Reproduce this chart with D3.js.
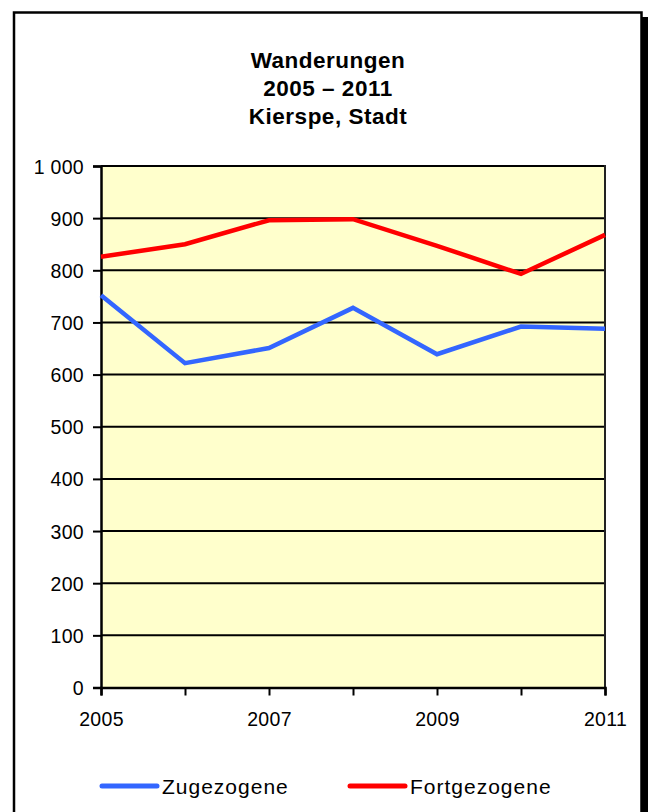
<!DOCTYPE html>
<html>
<head>
<meta charset="utf-8">
<script src="https://cdn.jsdelivr.net/npm/d3@7"></script>
<style>
  body { margin: 0; background: #fff; }
  text { font-family: "Liberation Sans", Arial, sans-serif; }
</style>
</head>
<body>
<div id="chart"></div>
<script>
(() => {
  // Jahre und Werte
  var years = [2005, 2006, 2007, 2008, 2009, 2010, 2011];
  var zugezogene = [752, 622, 651, 728, 639, 692, 688];
  var fortgezogene = [826, 850, 896, 898, 847, 793, 868];
  var yTicks = [0, 100, 200, 300, 400, 500, 600, 700, 800, 900, 1000];
  var xLabels = [2005, 2007, 2009, 2011];
  var titleLines = ["Wanderungen", "2005 \u2013 2011", "Kierspe, Stadt"];
  var seriesNames = ["Zugezogene", "Fortgezogene"];
  var seriesColors = ["#3366ff", "#ff0000"];

  var W = 648, H = 812;
  var plot = { left: 101, right: 605, top: 166, bottom: 687.5 };

  var svg = d3.select('#chart')
    .append('svg')
    .attr('width', W)
    .attr('height', H);

  // frame with shadow
  svg.append('rect')
    .attr('x', 642).attr('y', 17)
    .attr('width', 6).attr('height', H)
    .attr('fill', '#000');
  svg.append('rect')
    .attr('x', 14).attr('y', 12.5)
    .attr('width', 627.5).attr('height', H + 20)
    .attr('fill', '#fff')
    .attr('stroke', '#000')
    .attr('stroke-width', 2.5);

  // title
  svg.append('text')
    .attr('x', 328)
    .attr('text-anchor', 'middle')
    .style('font-weight', 'bold')
    .style('font-size', '22.5px')
    .style('letter-spacing', '0.5px')
    .selectAll('tspan')
    .data(titleLines)
    .enter().append('tspan')
    .attr('x', 328)
    .attr('y', (d, i) => 68 + i * 28)
    .text(d => d);

  var xScale = d3.scaleLinear().domain([2005, 2011]).range([plot.left, plot.right]);
  var yScale = d3.scaleLinear().domain([0, 1000]).range([plot.bottom, plot.top]);

  // plot background
  svg.append('rect')
    .attr('x', plot.left).attr('y', plot.top)
    .attr('width', plot.right - plot.left)
    .attr('height', plot.bottom - plot.top)
    .attr('fill', '#ffffcc');

  // gridlines
  svg.append('g')
    .selectAll('line')
    .data(yTicks.filter(d => d > 0))
    .enter().append('line')
    .attr('x1', plot.left).attr('x2', plot.right)
    .attr('y1', d => yScale(d)).attr('y2', d => yScale(d))
    .attr('stroke', '#000')
    .attr('stroke-width', 2);

  // right border of plot
  svg.append('line')
    .attr('x1', plot.right).attr('x2', plot.right)
    .attr('y1', plot.top - 1).attr('y2', plot.bottom)
    .attr('stroke', '#222')
    .attr('stroke-width', 2);

  var fmt = d3.formatLocale({ decimal: ",", thousands: " ", grouping: [3], currency: ["", "€"] }).format(",d");

  var yAxis = svg.append('g')
    .attr('transform', 'translate(' + plot.left + ',0)')
    .call(d3.axisLeft(yScale).tickValues(yTicks).tickSize(8).tickPadding(9).tickFormat(fmt));
  yAxis.select('.domain').attr('stroke-width', 2.5);
  yAxis.selectAll('.tick line').attr('stroke-width', 2);
  yAxis.selectAll('text')
    .attr('dy', '0.36em')
    .style('font-size', '19.5px')
    .style('letter-spacing', '0.3px')
    .attr('fill', '#000');

  var xAxis = svg.append('g')
    .attr('transform', 'translate(0,' + plot.bottom + ')')
    .call(d3.axisBottom(xScale).tickValues(years).tickSize(8).tickPadding(17)
      .tickFormat(d => xLabels.indexOf(d) >= 0 ? String(d) : ''));
  xAxis.select('.domain').attr('stroke-width', 2.5);
  xAxis.selectAll('.tick line').attr('stroke-width', 2);
  xAxis.selectAll('text')
    .style('font-size', '19.5px')
    .style('letter-spacing', '0.3px')
    .attr('fill', '#000');

  // lines
  var line = d3.line()
    .x((d, i) => xScale(years[i]))
    .y(d => yScale(d));

  [zugezogene, fortgezogene].forEach((vals, k) => {
    svg.append('path')
      .datum(vals)
      .attr('d', line)
      .attr('fill', 'none')
      .attr('stroke', seriesColors[k])
      .attr('stroke-width', 4.5)
      .attr('stroke-linejoin', 'miter');
  });

  // legend
  var legendX = [100, 348];
  var legend = svg.append('g')
    .selectAll('g')
    .data(seriesNames)
    .enter().append('g')
    .attr('transform', (d, i) => 'translate(' + legendX[i] + ',786)');
  legend.append('line')
    .attr('x1', 2).attr('x2', 57)
    .attr('stroke', (d, i) => seriesColors[i])
    .attr('stroke-width', 5)
    .attr('stroke-linecap', 'round');
  legend.append('text')
    .attr('x', 62)
    .attr('y', 8)
    .style('font-size', '21px')
    .style('letter-spacing', '1px')
    .text(d => d);
})();
</script>
</body>
</html>
